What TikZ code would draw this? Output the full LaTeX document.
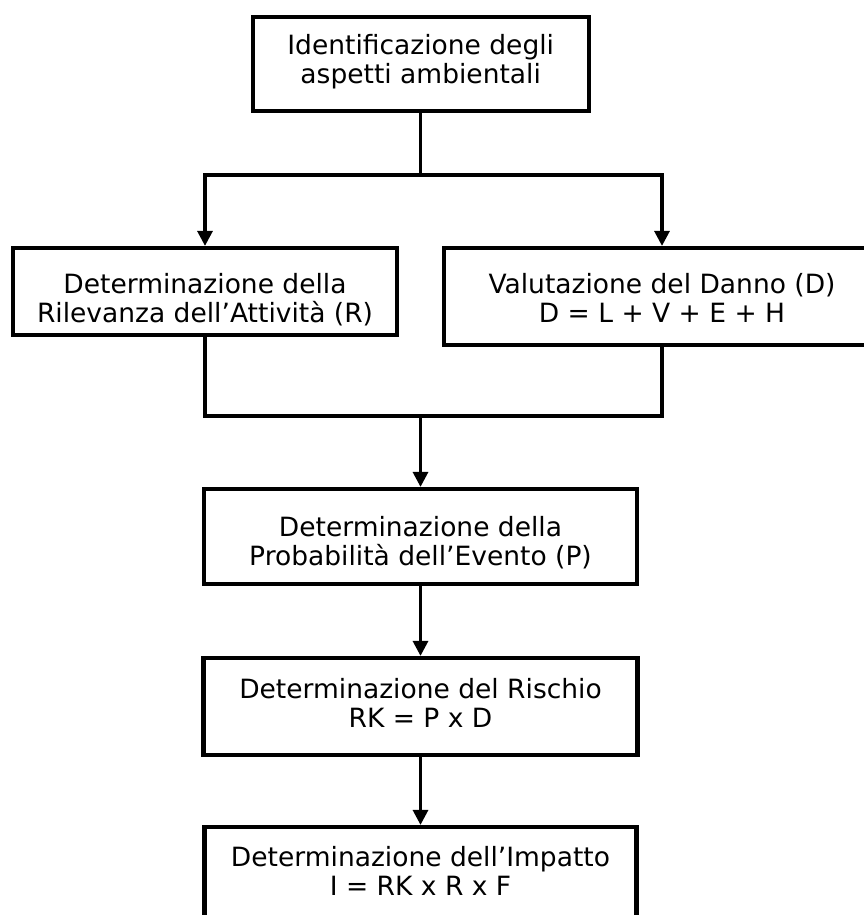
\documentclass[tikz,border=0pt]{standalone}
\usepackage{fontspec}
\setmainfont{DejaVu Sans}
\usetikzlibrary{arrows.meta}
\tikzset{
  boxnode/.style={draw, line width=4.2pt, rectangle, inner sep=0pt, fill=white},
  txt/.style={align=center, inner sep=0pt, font=\fontsize{26.5}{29}\selectfont},
  conn/.style={line width=3.2pt, line join=miter},
  arr/.style={conn, -{Triangle[width=15pt,length=15pt]}},
}
\newcommand{\Ltop}{\rule{0pt}{22pt}}
\newcommand{\Lbot}{\rule[-7pt]{0pt}{7pt}}
\begin{document}
\begin{tikzpicture}[x=1pt,y=-1pt]
\useasboundingbox (0,0) rectangle (864,915);
\clip (0,0) rectangle (864,915);
\fill[white] (0,0) rectangle (864,915);
% boxes
\node[boxnode, minimum width=336pt, minimum height=94pt] (top) at (420.7,64) {};
\node[boxnode, minimum width=384pt, minimum height=87pt] (left) at (205,291.5) {};
\node[boxnode, minimum width=436pt, minimum height=97pt] (right) at (662,296.5) {};
\node[boxnode, minimum width=433pt, minimum height=95pt] (prob) at (420.5,536.5) {};
\node[boxnode, minimum width=434pt, minimum height=97pt] (risk) at (420.5,706.5) {};
\node[boxnode, minimum width=432pt, minimum height=97pt] (imp) at (420.5,875.5) {};
% texts
\node[txt] (topT) at (420.7,62) {\Ltop Identificazione degli\\aspetti ambientali\Lbot};
\node[txt] (leftT) at (205,300) {\Ltop Determinazione della\\Rilevanza dell’Attività (R)\Lbot};
\node[txt] (rightT) at (662,300) {\Ltop Valutazione del Danno (D)\\D = L + V + E + H\Lbot};
\node[txt] (probT) at (420.5,543.5) {\Ltop Determinazione della\\Probabilità dell’Evento (P)\Lbot};
\node[txt] (riskT) at (420.5,705) {\Ltop Determinazione del Rischio\\RK = P x D\Lbot};
\node[txt] (impT) at (420.5,873.5) {\Ltop Determinazione dell’Impatto\\I = RK x R x F\Lbot};
% junctions
\coordinate (j1) at (420.7,175);
\coordinate (j2) at (420.5,416);
% connectors
\draw[conn] (top.south) -- (j1);
\draw[arr] (j1) -| (left.north);
\draw[arr] (j1) -| (right.north);
\draw[conn] (left.south) |- (j2);
\draw[conn] (right.south) |- (j2);
\draw[arr] (j2) -- (prob.north);
\draw[arr] (prob.south) -- (risk.north);
\draw[arr] (risk.south) -- (imp.north);
\end{tikzpicture}
\end{document}
